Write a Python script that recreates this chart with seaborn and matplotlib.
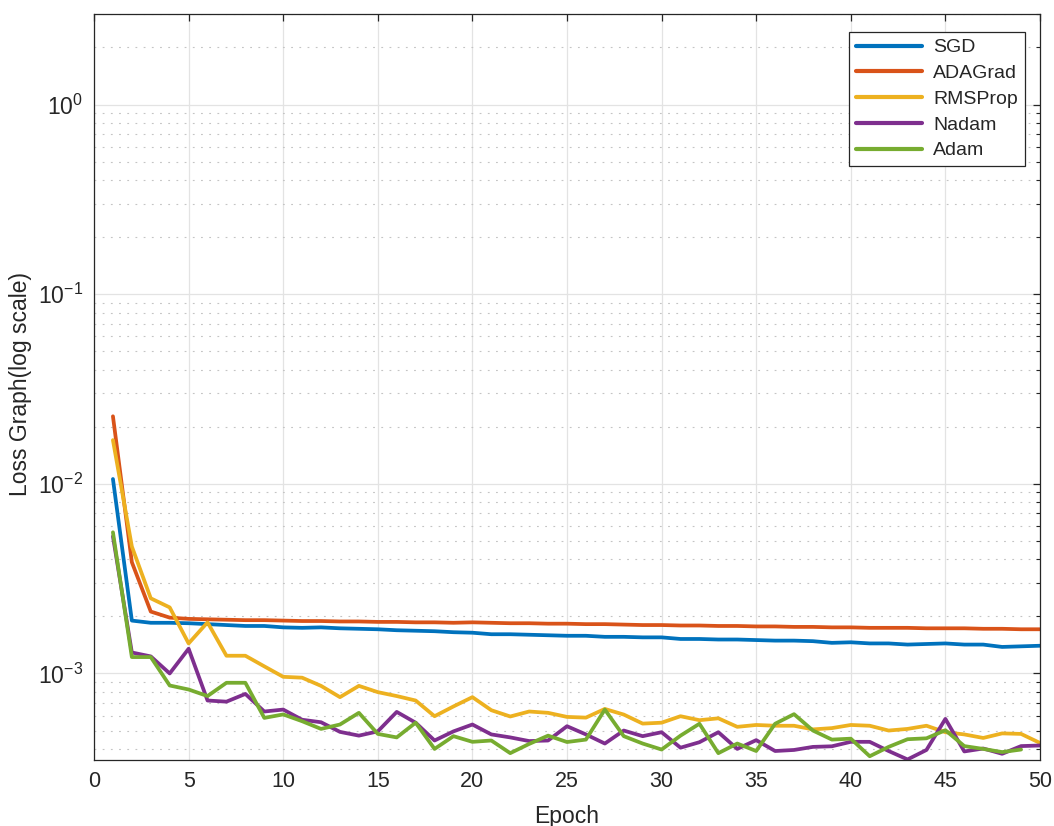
import numpy as np
import pandas as pd
import seaborn as sns
import matplotlib.pyplot as plt
from matplotlib.ticker import LogLocator, MultipleLocator, NullFormatter

# --- data ---
epochs = list(range(1, 51))

sgd = [0.0106, 0.0019, 1.85e-3, 1.85e-3, 1.84e-3, 1.82e-3, 1.80e-3, 1.78e-3, 1.78e-3, 1.75e-3,
       1.74e-3, 1.75e-3, 1.73e-3, 1.72e-3, 1.71e-3, 1.69e-3, 1.68e-3, 1.67e-3, 1.65e-3, 1.64e-3,
       1.61e-3, 1.61e-3, 1.60e-3, 1.59e-3, 1.58e-3, 1.58e-3, 1.56e-3, 1.56e-3, 1.55e-3, 1.55e-3,
       1.52e-3, 1.52e-3, 1.51e-3, 1.51e-3, 1.50e-3, 1.49e-3, 1.49e-3, 1.48e-3, 1.45e-3, 1.46e-3,
       1.44e-3, 1.44e-3, 1.42e-3, 1.43e-3, 1.44e-3, 1.42e-3, 1.42e-3, 1.38e-3, 1.39e-3, 1.40e-3]

adagrad = [0.0227, 3.86e-3, 2.12e-3, 1.97e-3, 1.94e-3, 1.93e-3, 1.92e-3, 1.91e-3, 1.91e-3, 1.90e-3,
           1.89e-3, 1.89e-3, 1.88e-3, 1.88e-3, 1.87e-3, 1.87e-3, 1.86e-3, 1.86e-3, 1.85e-3, 1.86e-3,
           1.85e-3, 1.84e-3, 1.84e-3, 1.83e-3, 1.83e-3, 1.82e-3, 1.82e-3, 1.81e-3, 1.80e-3, 1.80e-3,
           1.79e-3, 1.79e-3, 1.78e-3, 1.78e-3, 1.77e-3, 1.77e-3, 1.76e-3, 1.76e-3, 1.75e-3, 1.75e-3,
           1.74e-3, 1.74e-3, 1.74e-3, 1.73e-3, 1.73e-3, 1.73e-3, 1.72e-3, 1.72e-3, 1.71e-3, 1.71e-3]

rmsprop = [0.0170, 4.67e-3, 2.49e-3, 2.23e-3, 1.44e-3, 1.86e-3, 1.24e-3, 1.24e-3, 1.09e-3, 9.6e-4,
           9.5e-4, 8.6e-4, 7.5e-4, 8.6e-4, 7.97e-4, 7.6e-4, 7.2e-4, 5.95e-4, 6.7e-4, 7.5e-4,
           6.4e-4, 5.93e-4, 6.3e-4, 6.2e-4, 5.9e-4, 5.85e-4, 6.5e-4, 6.07e-4, 5.44e-4, 5.5e-4,
           5.95e-4, 5.67e-4, 5.8e-4, 5.23e-4, 5.35e-4, 5.3e-4, 5.3e-4, 5.07e-4, 5.15e-4, 5.35e-4,
           5.3e-4, 5.0e-4, 5.1e-4, 5.3e-4, 4.9e-4, 4.77e-4, 4.57e-4, 4.83e-4, 4.8e-4, 4.3e-4]

nadam = [5.28e-3, 1.29e-3, 1.23e-3, 1.0e-3, 1.35e-3, 7.2e-4, 7.1e-4, 7.8e-4, 6.3e-4, 6.45e-4,
         5.7e-4, 5.53e-4, 4.92e-4, 4.7e-4, 4.95e-4, 6.27e-4, 5.5e-4, 4.43e-4, 4.95e-4, 5.38e-4,
         4.77e-4, 4.6e-4, 4.4e-4, 4.43e-4, 5.27e-4, 4.77e-4, 4.27e-4, 5.0e-4, 4.67e-4, 4.9e-4,
         4.06e-4, 4.34e-4, 4.9e-4, 4.0e-4, 4.45e-4, 3.9e-4, 3.95e-4, 4.1e-4, 4.13e-4, 4.36e-4,
         4.36e-4, 3.9e-4, 3.52e-4, 3.95e-4, 5.76e-4, 3.88e-4, 4.02e-4, 3.77e-4, 4.14e-4, 4.17e-4]

# Adam stops at epoch 49
adam = [5.55e-3, 1.22e-3, 1.22e-3, 8.64e-4, 8.23e-4, 7.6e-4, 8.93e-4, 8.93e-4, 5.83e-4, 6.08e-4,
        5.6e-4, 5.1e-4, 5.38e-4, 6.2e-4, 4.8e-4, 4.6e-4, 5.5e-4, 4.0e-4, 4.67e-4, 4.36e-4,
        4.43e-4, 3.8e-4, 4.25e-4, 4.7e-4, 4.35e-4, 4.48e-4, 6.45e-4, 4.67e-4, 4.27e-4, 3.97e-4,
        4.7e-4, 5.43e-4, 3.8e-4, 4.27e-4, 3.9e-4, 5.43e-4, 6.1e-4, 5.0e-4, 4.48e-4, 4.53e-4,
        3.66e-4, 4.1e-4, 4.5e-4, 4.55e-4, 5.02e-4, 4.14e-4, 4.0e-4, 3.85e-4, 3.97e-4]

names = ["SGD", "ADAGrad", "RMSProp", "Nadam", "Adam"]
series = [sgd, adagrad, rmsprop, nadam, adam]
colors = ["#0072BD", "#D95319", "#EDB120", "#7E2F8E", "#77AC30"]

# long-form table for seaborn
df = pd.concat(
    [pd.DataFrame({"Epoch": epochs[:len(v)], "Loss": v, "Optimizer": n})
     for n, v in zip(names, series)],
    ignore_index=True,
)

# --- style: MATLAB-ish look ---
sns.set_style("white")
plt.rcParams["font.family"] = ["Liberation Sans", "DejaVu Sans"]
plt.rcParams["mathtext.fontset"] = "custom"
plt.rcParams["mathtext.rm"] = "Liberation Sans"
plt.rcParams["mathtext.it"] = "Liberation Sans"
plt.rcParams["lines.scale_dashes"] = False

fig = plt.figure(figsize=(10.54, 8.26), dpi=100)
ax = fig.add_axes([0.0892, 0.080, 0.8975, 0.903])

sns.lineplot(data=df, x="Epoch", y="Loss", hue="Optimizer", hue_order=names,
             palette=colors, linewidth=2.7, ax=ax, sort=False)

ax.set_yscale("log")
ax.set_xlim(0, 50)
ax.set_ylim(3.5e-4, 3.0)

ax.xaxis.set_major_locator(MultipleLocator(5))
ax.yaxis.set_major_locator(LogLocator(base=10, numticks=10))
ax.yaxis.set_minor_locator(LogLocator(base=10, subs=np.arange(2, 10), numticks=20))
ax.yaxis.set_minor_formatter(NullFormatter())

ax.grid(True, which="major", color="#e3e3e3", linewidth=0.9, linestyle="-")
ax.grid(True, which="minor", axis="y", color="#c4c4c4", linewidth=0.8, linestyle=(0, (1.3, 4.6)))
ax.set_axisbelow(True)

ax.tick_params(which="both", direction="in", top=True, right=True, colors="#262626",
               labelcolor="#262626")
ax.tick_params(which="major", length=5, width=0.9, labelsize=15.5, pad=8)
ax.tick_params(axis="y", which="major", labelsize=16.5)
ax.tick_params(which="minor", length=3, width=0.8)
for s in ax.spines.values():
    s.set_color("#262626")
    s.set_linewidth(0.9)

ax.set_xlabel("Epoch", fontsize=16.5, color="#262626", labelpad=9)
ax.set_ylabel("Loss Graph(log scale)", fontsize=16.5, color="#262626")
ax.yaxis.set_label_coords(-0.0655, 0.504)

leg = ax.legend(loc="upper right", bbox_to_anchor=(0.984, 0.976), fontsize=14,
                frameon=True, fancybox=False, edgecolor="#262626", framealpha=1,
                handlelength=3.4, borderpad=0.35, labelspacing=0.42, handletextpad=0.6,
                borderaxespad=0)
leg.get_frame().set_linewidth(0.9)
for line in leg.get_lines():
    line.set_linewidth(3.0)

fig.savefig("out.png", dpi=100)
